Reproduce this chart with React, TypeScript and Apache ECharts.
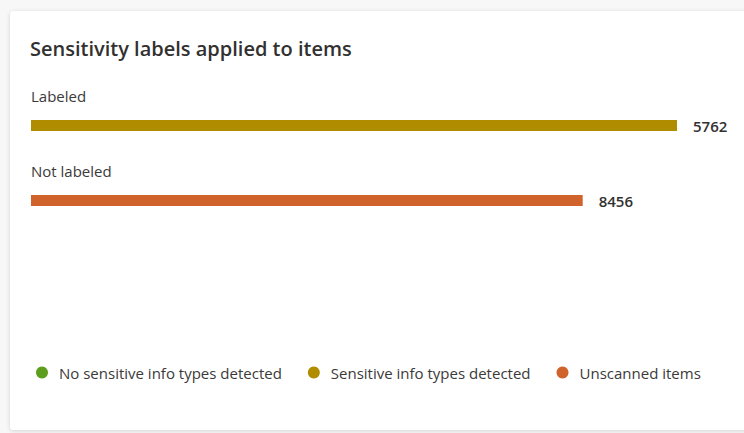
import React, { useEffect, useRef } from "react";
import * as echarts from "echarts";

const titleText = "Sensitivity labels applied to items";
const categories = ["Labeled", "Not labeled"];
const countLabels = [5762, 8456];
// bar length, in percent of the longest bar
const barLengths = [100, 85.4];
const seriesNames = [
  "No sensitive info types detected",
  "Sensitive info types detected",
  "Unscanned items",
];
const seriesColors = ["#5d9e1f", "#b08c00", "#d0622b"];
// which category each series fills
const noSensitive: (number | string)[] = ["-", "-"];
const sensitive: (number | string)[] = [barLengths[0], "-"];
const unscanned: (number | string)[] = ["-", barLengths[1]];

const FONT = "'Open Sans', 'Noto Sans', sans-serif";

export default function App() {
  const ref = useRef<HTMLDivElement>(null);
  useEffect(() => {
    if (!ref.current) return;
    const chart = echarts.init(ref.current, undefined, { renderer: "svg" });
    const valueLabel = {
      show: true,
      position: "right",
      distance: 16,
      fontFamily: FONT,
      fontSize: 15,
      fontWeight: 600,
      color: "#323130",
      formatter: (p: any) => String(countLabels[p.dataIndex]),
    };
    const datasets = [noSensitive, sensitive, unscanned];
    chart.setOption({
      animation: false,
      backgroundColor: "#f7f7f7",
      textStyle: { fontFamily: FONT },
      graphic: [
        {
          type: "rect",
          z: 0,
          shape: { x: 10, y: 11, width: 760, height: 419, r: 4 },
          style: {
            fill: "#ffffff",
            shadowBlur: 4,
            shadowColor: "rgba(0,0,0,0.14)",
            shadowOffsetY: 1,
          },
        },
      ],
      title: {
        text: titleText,
        left: 25,
        top: 33,
        textStyle: {
          fontFamily: FONT,
          fontSize: 20,
          fontWeight: 600,
          color: "#323130",
        },
      },
      legend: {
        left: 31,
        top: 360,
        icon: "circle",
        itemWidth: 12,
        itemHeight: 12,
        itemGap: 26,
        textStyle: {
          fontFamily: FONT,
          fontSize: 15,
          color: "#3b3a39",
          padding: [0, 0, 0, 6],
        },
        data: seriesNames,
      },
      grid: { left: 31, top: 88, width: 646, height: 150 },
      xAxis: { type: "value", min: 0, max: 100, show: false },
      yAxis: {
        type: "category",
        data: categories,
        inverse: true,
        axisLine: { show: false },
        axisTick: { show: false },
        axisLabel: {
          inside: true,
          margin: 0,
          align: "left",
          verticalAlign: "bottom",
          padding: [0, 0, 22, 0],
          fontFamily: FONT,
          fontSize: 15,
          color: "#3b3a39",
        },
      },
      series: seriesNames.map((name, i) => ({
        name,
        type: "bar",
        stack: "total",
        barWidth: 11,
        itemStyle: { color: seriesColors[i] },
        label: valueLabel,
        data: datasets[i],
      })),
    });
    return () => chart.dispose();
  }, []);
  return (
    <div
      ref={ref}
      style={{ position: "fixed", left: 0, top: 0, width: 744, height: 433 }}
    />
  );
}
